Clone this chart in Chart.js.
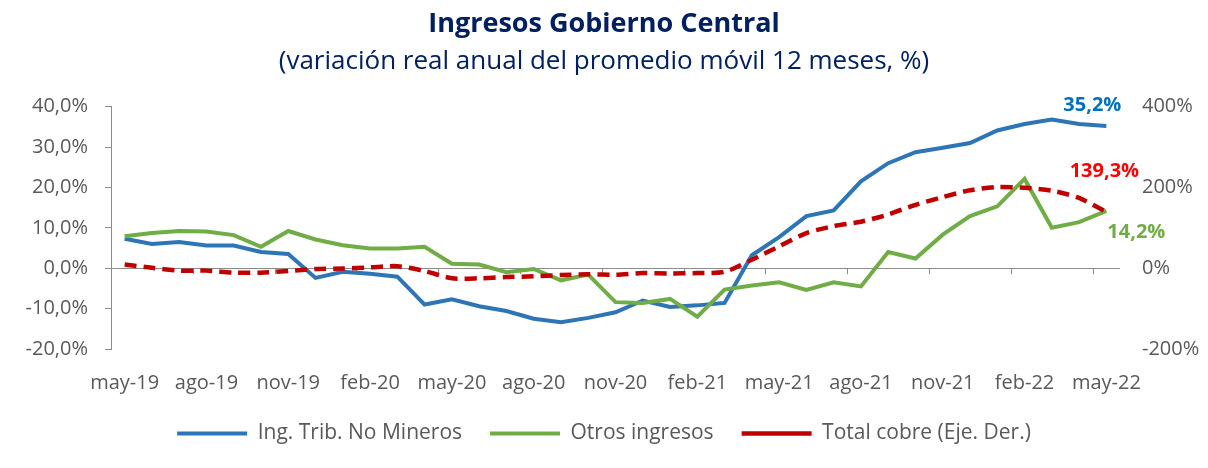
<!DOCTYPE html>
<html>
<head>
<meta charset="utf-8">
<script src="https://cdn.jsdelivr.net/npm/chart.js@4.4.0/dist/chart.umd.min.js"></script>
<style>
  html, body { margin: 0; padding: 0; background: #fff; }
  #wrap { width: 1208px; height: 468px; }
</style>
</head>
<body>
<div id="wrap"><canvas id="ingresos"></canvas></div>
<script>
var meses = ['may-19','jun-19','jul-19','ago-19','sep-19','oct-19','nov-19','dic-19','ene-20','feb-20','mar-20','abr-20',
             'may-20','jun-20','jul-20','ago-20','sep-20','oct-20','nov-20','dic-20','ene-21','feb-21','mar-21','abr-21',
             'may-21','jun-21','jul-21','ago-21','sep-21','oct-21','nov-21','dic-21','ene-22','feb-22','mar-22','abr-22','may-22'];

var ingTribNoMineros = [7.3, 6.0, 6.5, 5.6, 5.6, 4.0, 3.5, -2.4, -0.9, -1.4, -2.1, -9.0,
                        -7.7, -9.4, -10.6, -12.5, -13.4, -12.3, -10.9, -8.0, -9.6, -9.2, -8.6, 3.2,
                        7.7, 12.9, 14.3, 21.5, 26.0, 28.7, 29.8, 31.0, 34.1, 35.7, 36.8, 35.7, 35.2];

var otrosIngresos = [7.9, 8.7, 9.2, 9.1, 8.2, 5.3, 9.2, 7.1, 5.7, 4.9, 4.9, 5.3,
                     1.1, 0.9, -1.0, -0.2, -3.0, -1.6, -8.4, -8.6, -7.6, -12.0, -5.3, -4.3,
                     -3.5, -5.4, -3.5, -4.5, 4.0, 2.4, 8.3, 12.9, 15.3, 22.1, 10.0, 11.4, 14.2];

var totalCobre = [9, 1, -6, -6, -11, -11, -7, -2, -1, 2, 5, -7,
                  -25, -25, -22, -20, -17, -15, -16, -12, -13, -12, -9, 21,
                  54, 87, 104, 115, 133, 157, 176, 193, 201, 199, 192, 174, 139.3];

var etiquetasFinales = ['35,2%', '14,2%', '139,3%'];

var fuente = 'Open Sans';
var gris = '#595959';
var lineaEje = '#8c8c8c';

// marcas del eje x sobre la linea de cero, cada 3 meses
var marcasEjeX = {
    id: 'marcasEjeX',
    beforeDatasetsDraw: function(chart){
        var x = chart.scales.x, y = chart.scales.y;
        var ctx = chart.ctx;
        var medio = (x.getPixelForValue(1) - x.getPixelForValue(0)) / 2;
        var y0 = y.getPixelForValue(0);
        ctx.save();
        ctx.strokeStyle = lineaEje;
        ctx.lineWidth = 1;
        for (var i = 3; i < meses.length; i += 3) {
            var px = Math.round(x.getPixelForValue(i) - medio) + 0.5;
            ctx.beginPath();
            ctx.moveTo(px, y0);
            ctx.lineTo(px, y0 + 6);
            ctx.stroke();
        }
        ctx.restore();
    }
};

// etiqueta del ultimo dato de cada serie
var ultimoDato = {
    id: 'ultimoDato',
    afterDatasetsDraw: function(chart){
        var ctx = chart.ctx;
        var desplazamientos = [[-14, -21], [30, 21], [-2, -41]];
        ctx.save();
        ctx.font = 'bold 20px "' + fuente + '"';
        ctx.textAlign = 'center';
        ctx.textBaseline = 'middle';
        chart.data.datasets.forEach(function(ds, k){
            var meta = chart.getDatasetMeta(k);
            var p = meta.data[meta.data.length - 1];
            ctx.fillStyle = ds.labelColor;
            ctx.fillText(etiquetasFinales[k], p.x + desplazamientos[k][0], p.y + desplazamientos[k][1]);
        });
        ctx.restore();
    }
};

var ctx = document.getElementById('ingresos');
var grafico = new Chart(ctx, {
    type: 'line',
    data: {
        labels: meses,
        datasets: [{
            label: 'Ing. Trib. No Mineros',
            data: ingTribNoMineros,
            borderColor: '#2E75B6',
            backgroundColor: '#2E75B6',
            labelColor: '#0070C0',
            borderWidth: 4,
            pointRadius: 0,
            tension: 0,
            yAxisID: 'y',
            order: 2
        }, {
            label: 'Otros ingresos',
            data: otrosIngresos,
            borderColor: '#70AD47',
            backgroundColor: '#70AD47',
            labelColor: '#70AD47',
            borderWidth: 4,
            pointRadius: 0,
            tension: 0,
            yAxisID: 'y',
            order: 1
        }, {
            label: 'Total cobre (Eje. Der.)',
            data: totalCobre,
            borderColor: '#C00000',
            backgroundColor: '#C00000',
            labelColor: '#FF0000',
            borderWidth: 4.5,
            borderDash: [12, 7],
            pointRadius: 0,
            tension: 0.25,
            yAxisID: 'y1',
            order: 0
        }]
    },
    options: {
        responsive: true,
        maintainAspectRatio: false,
        animation: false,
        layout: { padding: { left: 0, right: 0, top: 0, bottom: 14 } },
        scales: {
            x: {
                offset: true,
                grid: { display: false, drawTicks: false },
                border: { display: false },
                ticks: {
                    autoSkip: false,
                    maxRotation: 0,
                    padding: 22,
                    color: gris,
                    font: { family: fuente, size: 20 },
                    callback: function(v, i){ return i % 3 === 0 ? meses[i] : ''; }
                },
                afterFit: function(s){ s.height = 46; }
            },
            y: {
                position: 'left',
                min: -20, max: 40,
                ticks: {
                    stepSize: 10,
                    padding: 17,
                    color: gris,
                    font: { family: fuente, size: 20 },
                    callback: function(v){ return v.toFixed(1).replace('.', ',') + '%'; }
                },
                grid: {
                    color: function(c){ return c.tick && c.tick.value === 0 ? lineaEje : 'rgba(0,0,0,0)'; },
                    tickColor: lineaEje,
                    tickLength: 6,
                    lineWidth: 1
                },
                border: { display: true, color: lineaEje, width: 1 },
                afterFit: function(s){ s.width = 111; }
            },
            y1: {
                position: 'right',
                min: -200, max: 400,
                ticks: {
                    stepSize: 200,
                    padding: 22,
                    color: gris,
                    font: { family: fuente, size: 20 },
                    callback: function(v){ return v + '%'; }
                },
                grid: { display: false, drawTicks: false },
                border: { display: false },
                afterFit: function(s){ s.width = 88; }
            }
        },
        plugins: {
            title: {
                display: true,
                text: 'Ingresos Gobierno Central',
                color: '#002060',
                font: { family: fuente, size: 27, weight: 'bold' },
                padding: { top: 8, bottom: 0 }
            },
            subtitle: {
                display: true,
                text: '(variación real anual del promedio móvil 12 meses, %)',
                color: '#002060',
                font: { family: fuente, size: 26 },
                padding: { top: 6, bottom: 29 }
            },
            legend: {
                position: 'bottom',
                labels: {
                    usePointStyle: true,
                    pointStyle: 'line',
                    pointStyleWidth: 70,
                    boxHeight: 21,
                    padding: 28,
                    color: gris,
                    font: { family: fuente, size: 21 },
                    sort: function(a, b){ return a.datasetIndex - b.datasetIndex; }
                }
            },
            tooltip: { enabled: false }
        }
    },
    plugins: [marcasEjeX, ultimoDato]
});
</script>
</body>
</html>
